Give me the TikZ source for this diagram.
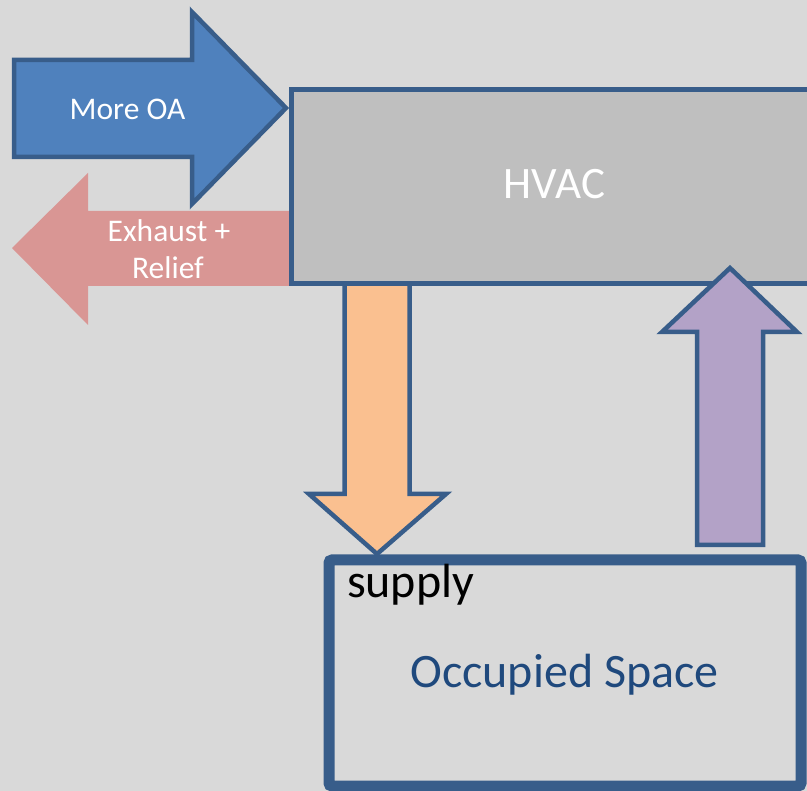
\documentclass[tikz,border=0pt]{standalone}
\usepackage{fontspec}
\setmainfont{Carlito}
\definecolor{bg}{HTML}{D9D9D9}
\definecolor{hvacfill}{HTML}{BFBFBF}
\definecolor{edge}{HTML}{385D8A}
\definecolor{oablue}{HTML}{4F81BD}
\definecolor{exhpink}{HTML}{D99694}
\definecolor{supplyorange}{HTML}{FAC090}
\definecolor{returnpurple}{HTML}{B3A2C7}
\definecolor{spacetext}{HTML}{1F497D}
\tikzset{
  flowarrow/.style={draw=edge, line width=4.5pt, line join=miter},
  label/.style={inner sep=0pt, outer sep=0pt},
  whitetext/.style={label, text=white},
}
\begin{document}
\begin{tikzpicture}[x=1pt, y=-1pt]
  % canvas
  \path[clip] (0,0) rectangle (807,791);
  \fill[bg] (0,0) rectangle (807,791);

  % exhaust + relief leaving the unit
  \fill[exhpink] (292,211) -- (88,211) -- (88,173) -- (12,248)
    -- (88,325) -- (88,286) -- (292,286) -- cycle;

  % outside air entering the unit
  \filldraw[flowarrow, fill=oablue] (14,60) -- (192,60) -- (192,12) -- (286,108)
    -- (192,204) -- (192,157) -- (14,157) -- cycle;

  % supply duct down to the space
  \filldraw[flowarrow, fill=supplyorange] (344.5,283) -- (409.5,283) -- (409.5,494)
    -- (446,494) -- (377,554) -- (309,494) -- (344.5,494) -- cycle;

  % HVAC unit
  \filldraw[draw=edge, line width=5pt, fill=hvacfill] (291.5,89.5) rectangle (840,283.5);

  % occupied space
  \draw[draw=edge, line width=11pt, rounded corners=3pt] (329,560) rectangle (801,786);

  % return air back up to the unit
  \filldraw[flowarrow, fill=returnpurple] (697,545) -- (697,332) -- (662,332)
    -- (730,268) -- (797,332) -- (763,332) -- (763,545) -- cycle;

  % labels
  \node[whitetext, anchor=base, font=\fontsize{31.5}{31.5}\selectfont] (oa) at (127.5,120) {More OA};
  \node[whitetext, anchor=base, font=\fontsize{31.5}{31.5}\selectfont] (exh) at (169,242) {Exhaust +};
  \node[whitetext, anchor=base, font=\fontsize{31.5}{31.5}\selectfont] (rel) at (168,279) {Relief};
  \node[whitetext, anchor=base, font=\fontsize{45}{45}\selectfont] (hvac) at (554.5,199) {HVAC};
  \node[label, anchor=base west, font=\fontsize{48}{48}\selectfont] (supply) at (347,598) {supply};
  \node[label, anchor=base, text=spacetext, font=\fontsize{48}{48}\selectfont] (space) at (564.5,688) {Occupied Space};
\end{tikzpicture}
\end{document}
